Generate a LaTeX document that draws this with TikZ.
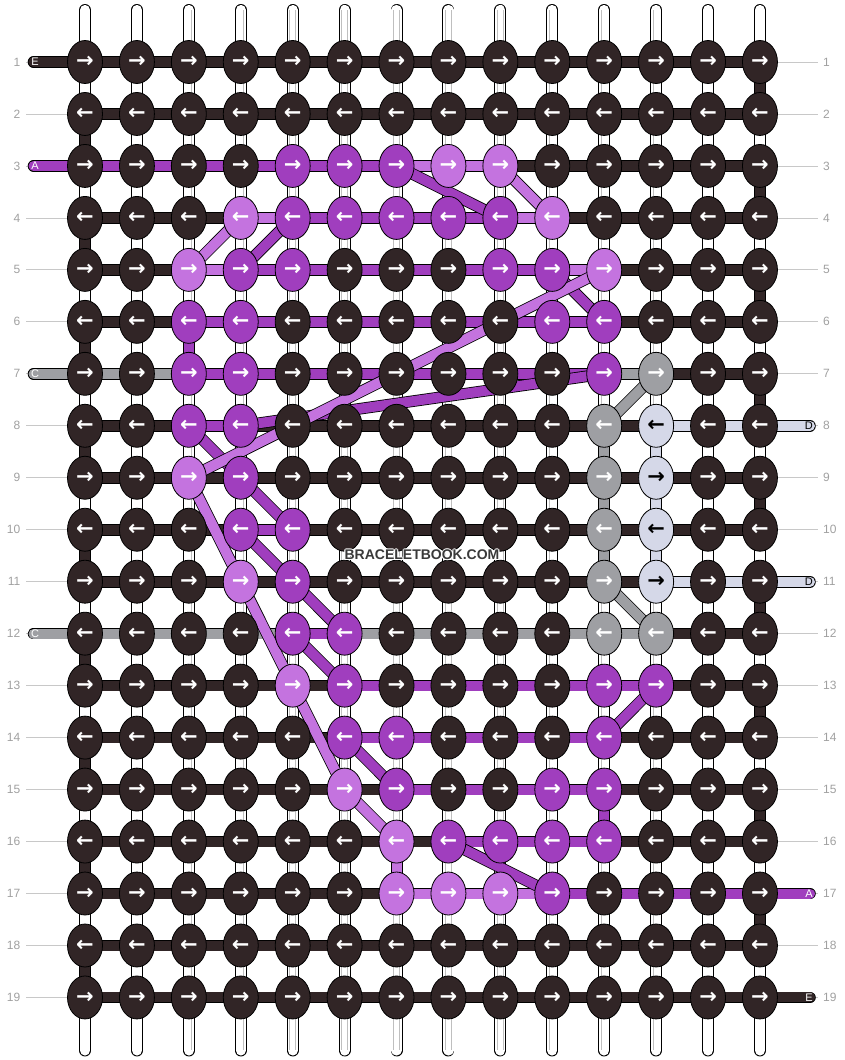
\documentclass[tikz,border=0pt]{standalone}
\usepackage{fontspec}
\setmainfont{Liberation Sans}
\newfontfamily\arrowfont{DejaVu Sans}
\usetikzlibrary{shapes.geometric,calc}

\pgfdeclarelayer{background}
\pgfsetlayers{background,main}

\definecolor{cD}{HTML}{312526}
\definecolor{cP}{HTML}{A03EBE}
\definecolor{cL}{HTML}{C473DF}
\definecolor{cG}{HTML}{9E9FA3}
\definecolor{cW}{HTML}{D5D8E8}
\definecolor{numgray}{HTML}{A0A0A0}
\definecolor{linegray}{HTML}{C8C8C8}
\definecolor{wmtext}{HTML}{3A3A3A}

\tikzset{
  knotnode/.style={ellipse, draw=black, line width=0.8pt, inner sep=0pt,
    minimum width=35pt, minimum height=43pt,
    font=\arrowfont\bfseries\fontsize{21}{21}\selectfont},
  strand/.style={draw=black, line width=0.8pt, double=c#1, double distance=10pt},
  warp/.style={draw=black, line width=0.9pt, double=white, double distance=10.2pt, line cap=round},
  warpline/.style={draw=black!25, line width=0.6pt, double=white, double distance=5.2pt},
  numline/.style={draw=linegray, line width=0.8pt},
  rownum/.style={text=numgray, inner sep=0pt, font=\fontsize{12}{12}\selectfont},
  endtag/.style={inner sep=0pt, font=\fontsize{11}{11}\selectfont},
  wmark/.style={inner sep=0pt, font=\bfseries\fontsize{14}{14}\selectfont}
}

\begin{document}
\begin{tikzpicture}[x=1pt, y=-1pt]
\useasboundingbox (0,0) rectangle (844,1060);

% knots, one row per line
\foreach \r/\cols in {
  1/{D,D,D,D,D,D,D,D,D,D,D,D,D,D},
  2/{D,D,D,D,D,D,D,D,D,D,D,D,D,D},
  3/{D,D,D,D,P,P,P,L,L,D,D,D,D,D},
  4/{D,D,D,L,P,P,P,P,P,L,D,D,D,D},
  5/{D,D,L,P,P,D,D,D,P,P,L,D,D,D},
  6/{D,D,P,P,D,D,D,D,D,P,P,D,D,D},
  7/{D,D,P,P,D,D,D,D,D,D,P,G,D,D},
  8/{D,D,P,P,D,D,D,D,D,D,G,W,D,D},
  9/{D,D,L,P,D,D,D,D,D,D,G,W,D,D},
  10/{D,D,D,P,P,D,D,D,D,D,G,W,D,D},
  11/{D,D,D,L,P,D,D,D,D,D,G,W,D,D},
  12/{D,D,D,D,P,P,D,D,D,D,G,G,D,D},
  13/{D,D,D,D,L,P,D,D,D,D,P,P,D,D},
  14/{D,D,D,D,D,P,P,D,D,D,P,D,D,D},
  15/{D,D,D,D,D,L,P,D,D,P,P,D,D,D},
  16/{D,D,D,D,D,D,L,P,P,P,P,D,D,D},
  17/{D,D,D,D,D,D,L,L,L,P,D,D,D,D},
  18/{D,D,D,D,D,D,D,D,D,D,D,D,D,D},
  19/{D,D,D,D,D,D,D,D,D,D,D,D,D,D}}{
  \foreach \k [count=\c] in \cols {
    \ifodd\r\relax\def\arr{→}\else\def\arr{←}\fi
    \if\k W\def\tc{black}\else\def\tc{white}\fi
    \node[knotnode, fill=c\k, text=\tc] (k-\r-\c)
      at ({85+51.92*(\c-1)}, {62+51.97*(\r-1)}) {\arr};
  }
}

% row numbers
\foreach \r in {1,...,19}{
  \node[rownum, anchor=east] (nl-\r) at ($(k-\r-1.center)+(-64.5,0)$) {\r};
  \node[rownum, anchor=west] (nr-\r) at ($(k-\r-14.center)+(63,0)$) {\r};
}

% end labels
\foreach \r/\t in {1/E,3/A,7/C,12/C}
  \node[endtag, text=white] (tl-\r) at ($(k-\r-1.center)+(-50,0)$) {\t};
\foreach \r/\t/\tc in {8/D/black,11/D/black,17/A/white,19/E/white}
  \node[endtag, text=\tc] (tr-\r) at ($(k-\r-14.center)+(49,0)$) {\t};

% watermark
\foreach \dx/\dy [count=\i] in {-1/0,1/0,0/-1,0/1,-0.8/-0.8,0.8/0.8,-0.8/0.8,0.8/-0.8}
  \node[wmark, text=white] (halo-\i) at ({422+\dx}, {555+\dy}) {BRACELETBOOK.COM};
\node[wmark, text=wmtext] (wm) at (422,555) {BRACELETBOOK.COM};

\begin{pgfonlayer}{background}
% warp strings
\foreach \c in {1,...,14}{
  \coordinate (wt-\c) at ($(k-1-\c.center)+(0,-52)$);
  \coordinate (wb-\c) at ($(k-19-\c.center)+(0,53)$);
  \draw[warp] (wt-\c) -- (wb-\c);
  \draw[warpline] (wt-\c) -- (wb-\c);
}

% guide lines to the row numbers
\foreach \r in {1,...,19}{
  \coordinate (ll-\r) at ($(k-\r-1.center)+(-59,0)$);
  \coordinate (lr-\r) at ($(k-\r-14.center)+(58,0)$);
  \draw[numline] (ll-\r) -- (k-\r-1.center);
  \draw[numline] (k-\r-14.center) -- (lr-\r);
}

% turns at the edges
\foreach \r [evaluate=\r as \n using int(\r+1)] in {2,4,...,18}
  \draw[strand=D] (k-\r-1.center) -- (k-\n-1.center);
\foreach \r [evaluate=\r as \n using int(\r+1)] in {1,3,...,17}
  \draw[strand=D] (k-\r-14.center) -- (k-\n-14.center);

% straight drops
\foreach \ra/\ca/\rb/\cb/\s in {6/3/7/3/P, 8/11/9/11/G, 9/11/10/11/G, 10/11/11/11/G,
    8/12/9/12/W, 9/12/10/12/W, 10/12/11/12/W, 15/11/16/11/P, 16/7/17/7/L}
  \draw[strand=\s] (k-\ra-\ca.center) -- (k-\rb-\cb.center);

% strands along the rows
\foreach \r/\segs in {
  1/{D,D,D,D,D,D,D,D,D,D,D,D,D},
  2/{D,D,D,D,D,D,D,D,D,D,D,D,D},
  3/{P,P,P,P,P,P,L,L,D,D,D,D,D},
  4/{D,D,D,L,P,P,P,P,L,D,D,D,D},
  5/{D,D,L,P,P,P,P,P,P,L,D,D,D},
  6/{D,D,P,P,P,P,P,P,P,P,D,D,D},
  7/{G,G,P,P,P,P,P,P,P,P,G,D,D},
  8/{D,D,P,D,D,D,D,D,D,D,D,W,W},
  9/{D,D,D,D,D,D,D,D,D,D,D,D,D},
  10/{D,D,D,P,D,D,D,D,D,D,D,D,D},
  11/{D,D,D,D,D,D,D,D,D,D,D,W,W},
  12/{G,G,G,G,P,G,G,G,G,G,G,D,D},
  13/{D,D,D,D,D,P,P,P,P,P,P,D,D},
  14/{D,D,D,D,D,P,P,P,P,P,D,D,D},
  15/{D,D,D,D,D,D,P,P,P,P,D,D,D},
  16/{D,D,D,D,D,D,D,P,P,P,D,D,D},
  17/{D,D,D,D,D,D,L,L,L,P,P,P,P},
  18/{D,D,D,D,D,D,D,D,D,D,D,D,D},
  19/{D,D,D,D,D,D,D,D,D,D,D,D,D}}{
  \foreach \s [count=\c] in \segs {
    \pgfmathtruncatemacro\n{\c+1}
    \draw[strand=\s] (k-\r-\c.center) -- (k-\r-\n.center);
  }
}

% loose ends
\foreach \r/\s in {1/D,3/P,7/G,12/G}{
  \coordinate (el-\r) at ($(k-\r-1.center)+(-51.5,0)$);
  \draw[strand=\s, line cap=round] (el-\r) -- (k-\r-1.center);
}
\foreach \r/\s in {8/W,11/W,17/P,19/D}{
  \coordinate (er-\r) at ($(k-\r-14.center)+(50,0)$);
  \draw[strand=\s, line cap=round] (k-\r-14.center) -- (er-\r);
}

% strands crossing between rows
\foreach \ra/\ca/\rb/\cb/\s in {3/7/4/9/P, 4/5/5/4/P, 5/10/6/11/P, 7/11/8/4/P,
    8/3/9/4/P, 9/4/10/5/P, 10/4/11/5/P, 11/5/12/6/P, 12/5/13/6/P, 14/6/15/7/P,
    13/12/14/11/P, 16/8/17/10/P, 7/12/8/11/G, 11/11/12/12/G,
    3/9/4/10/L, 4/4/5/3/L, 5/11/9/3/L, 9/3/11/4/L, 11/4/13/5/L, 13/5/15/6/L, 15/6/16/7/L}
  \draw[strand=\s] (k-\ra-\ca.center) -- (k-\rb-\cb.center);
\end{pgfonlayer}

\end{tikzpicture}
\end{document}
